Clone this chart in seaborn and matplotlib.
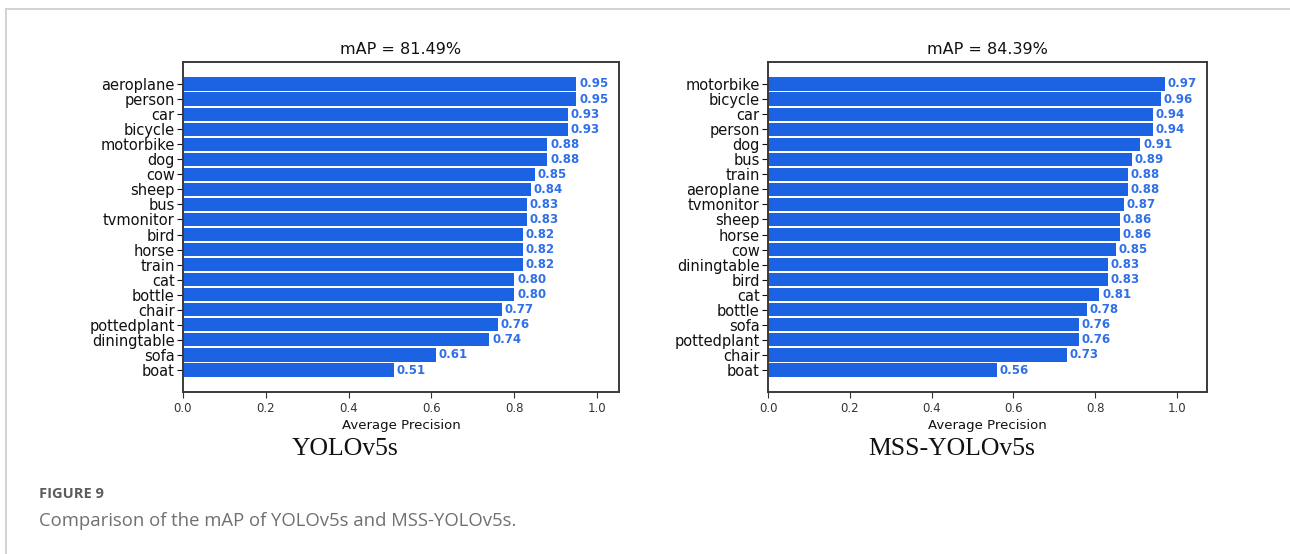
import matplotlib
matplotlib.use("Agg")
import matplotlib.pyplot as plt
import matplotlib.lines as mlines
import seaborn as sns
import pandas as pd

# Per-class average precision, sorted high to low
yolo_classes = ["aeroplane", "person", "car", "bicycle", "motorbike", "dog", "cow",
                "sheep", "bus", "tvmonitor", "bird", "horse", "train", "cat", "bottle",
                "chair", "pottedplant", "diningtable", "sofa", "boat"]
yolo_ap = [0.95, 0.95, 0.93, 0.93, 0.88, 0.88, 0.85, 0.84, 0.83, 0.83, 0.82, 0.82,
           0.82, 0.80, 0.80, 0.77, 0.76, 0.74, 0.61, 0.51]

mss_classes = ["motorbike", "bicycle", "car", "person", "dog", "bus", "train",
               "aeroplane", "tvmonitor", "sheep", "horse", "cow", "diningtable", "bird",
               "cat", "bottle", "sofa", "pottedplant", "chair", "boat"]
mss_ap = [0.97, 0.96, 0.94, 0.94, 0.91, 0.89, 0.88, 0.88, 0.87, 0.86, 0.86, 0.85,
          0.83, 0.83, 0.81, 0.78, 0.76, 0.76, 0.73, 0.56]

map_titles = ["mAP = 81.49%", "mAP = 84.39%"]
model_names = ["YOLOv5s", "MSS-YOLOv5s"]
x_ticks = [0.0, 0.2, 0.4, 0.6, 0.8, 1.0]
figure_label = "FIGURE 9"
figure_caption = "Comparison of the mAP of YOLOv5s and MSS-YOLOv5s."

BAR = "#1b63e2"
LABEL = "#2f6fe8"
W, H = 1290, 554

sns.set_theme(style="white")
plt.rcParams["font.family"] = ["DejaVu Sans"]

fig = plt.figure(figsize=(W / 100, H / 100), dpi=100)
fig.patch.set_facecolor("white")


def px_axes(x0, x1, y0, y1):
    return fig.add_axes([x0 / W, 1 - y1 / H, (x1 - x0) / W, (y1 - y0) / H])


panels = [
    (yolo_classes, yolo_ap, px_axes(183, 619, 62, 392), 1.053, 345),
    (mss_classes, mss_ap, px_axes(768, 1207, 62, 392), 1.073, 952),
]

for (classes, ap, ax, xmax, name_x), title, name in zip(panels, map_titles, model_names):
    df = pd.DataFrame({"cls": classes, "ap": ap})
    sns.barplot(data=df, x="ap", y="cls", orient="h", color=BAR, saturation=1,
                width=0.87, linewidth=0, ax=ax)
    ax.bar_label(ax.containers[0], fmt="%.2f", padding=2, color=LABEL,
                 fontsize=8.5, fontweight="bold")
    ax.set_xlim(0, xmax)
    ax.set_ylim(len(classes) - 1 + 1.46, -1.46)
    ax.set_xticks(x_ticks)
    ax.set_xticklabels([f"{t:.1f}" for t in x_ticks], fontsize=8.5, color="#333333")
    ax.tick_params(axis="y", labelsize=10.5, colors="#111111", length=4, width=0.8,
                   left=True, pad=2)
    ax.tick_params(axis="x", length=4, width=0.8, bottom=True, pad=3, colors="#333333")
    ax.set_ylabel("")
    ax.set_xlabel("Average Precision", fontsize=9.5, color="#111111", labelpad=3)
    ax.set_title(title, fontsize=11.5, color="#111111", pad=6)
    for sp in ax.spines.values():
        sp.set_visible(True)
        sp.set_color("#3a3a3a")
        sp.set_linewidth(1.4)
    fig.text(name_x / W, 1 - 449 / H, name, ha="center", va="center",
             fontsize=18.5, family="Liberation Serif", color="#111111")

# Card frame and caption
fig.add_artist(mlines.Line2D([6 / W, 1], [1 - 9 / H, 1 - 9 / H], color="#cccccc", lw=1.2))
fig.add_artist(mlines.Line2D([6 / W, 6 / W], [0, 1 - 9 / H], color="#cccccc", lw=1.2))
fig.text(39 / W, 1 - 494 / H, figure_label, ha="left", va="center", fontsize=10.5,
         fontweight="bold", family="Open Sans", color="#5c5c5c")
fig.text(39 / W, 1 - 521 / H, figure_caption, ha="left", va="center", fontsize=13.3,
         family="Open Sans", color="#707070")

fig.savefig("out.png", dpi=100, facecolor="white")
